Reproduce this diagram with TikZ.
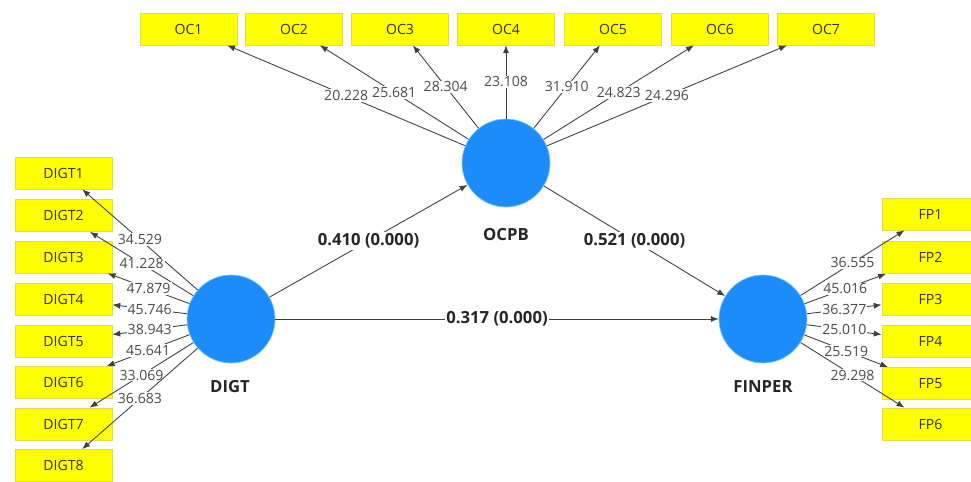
\documentclass[tikz,border=0pt]{standalone}
\usepackage{fontspec}
\setmainfont{Open Sans}
\usetikzlibrary{arrows.meta}

\definecolor{boxyellow}{RGB}{255,255,0}
\definecolor{boxedge}{RGB}{222,222,70}
\definecolor{lvblue}{RGB}{28,140,250}
\definecolor{lvedge}{RGB}{130,195,255}
\definecolor{loadgray}{RGB}{75,75,75}

\begin{document}
\begin{tikzpicture}[x=0.02cm, y=-0.02cm,
    ind/.style={draw=boxedge, fill=boxyellow, minimum width=1.94cm, minimum height=0.64cm,
                inner sep=0pt, text=black!80, font=\fontsize{8}{9}\selectfont},
    lv/.style={circle, draw=lvedge, fill=lvblue, minimum size=1.76cm, inner sep=0pt},
    lvname/.style={text=black!85, font=\fontsize{9.5}{11}\selectfont\bfseries},
    conn/.style={draw=black!75, line width=0.5pt, -{Latex[length=4.5pt,width=3.5pt]}},
    load/.style={midway, fill=white, inner sep=0.6pt, text=loadgray, font=\fontsize{8}{9}\selectfont},
    coef/.style={midway, fill=white, inner sep=1pt, text=black!85, font=\fontsize{9.5}{11}\selectfont\bfseries}]

  \useasboundingbox (0,0) rectangle (971,482);

  % latent variables
  \node[lv] (OCPB) at (506,163) {};
  \node[lv] (DIGT) at (231,319) {};
  \node[lv] (FINPER) at (763,319) {};
  \node[lvname] at (506,235) {OCPB};
  \node[lvname] at (230,387) {DIGT};
  \node[lvname] at (763,387) {FINPER};

  % indicators of OCPB
  \node[ind] (OC1) at (188.5,29) {OC1};
  \node[ind] (OC2) at (294,29) {OC2};
  \node[ind] (OC3) at (400,29) {OC3};
  \node[ind] (OC4) at (506,29) {OC4};
  \node[ind] (OC5) at (613,29) {OC5};
  \node[ind] (OC6) at (720,29) {OC6};
  \node[ind] (OC7) at (826,29) {OC7};

  % indicators of DIGT
  \node[ind] (DIGT1) at (63.5,173) {DIGT1};
  \node[ind] (DIGT2) at (63.5,215.5) {DIGT2};
  \node[ind] (DIGT3) at (63.5,257) {DIGT3};
  \node[ind] (DIGT4) at (63.5,299) {DIGT4};
  \node[ind] (DIGT5) at (63.5,341) {DIGT5};
  \node[ind] (DIGT6) at (63.5,382.5) {DIGT6};
  \node[ind] (DIGT7) at (63.5,424) {DIGT7};
  \node[ind] (DIGT8) at (63.5,465.5) {DIGT8};

  % indicators of FINPER
  \node[ind] (FP1) at (930.5,214) {FP1};
  \node[ind] (FP2) at (930.5,257.5) {FP2};
  \node[ind] (FP3) at (930.5,299) {FP3};
  \node[ind] (FP4) at (930.5,341) {FP4};
  \node[ind] (FP5) at (930.5,383.5) {FP5};
  \node[ind] (FP6) at (930.5,424) {FP6};

  % loadings
  \draw[conn] (OCPB) -- (OC1) node[load] {20.228};
  \draw[conn] (OCPB) -- (OC2) node[load] {25.681};
  \draw[conn] (OCPB) -- (OC3) node[load] {28.304};
  \draw[conn] (OCPB) -- (OC4) node[load] {23.108};
  \draw[conn] (OCPB) -- (OC5) node[load] {31.910};
  \draw[conn] (OCPB) -- (OC6) node[load] {24.823};
  \draw[conn] (OCPB) -- (OC7) node[load] {24.296};

  \draw[conn] (DIGT) -- (DIGT1) node[load] {34.529};
  \draw[conn] (DIGT) -- (DIGT2) node[load] {41.228};
  \draw[conn] (DIGT) -- (DIGT3) node[load] {47.879};
  \draw[conn] (DIGT) -- (DIGT4) node[load] {45.746};
  \draw[conn] (DIGT) -- (DIGT5) node[load] {38.943};
  \draw[conn] (DIGT) -- (DIGT6) node[load] {45.641};
  \draw[conn] (DIGT) -- (DIGT7) node[load] {33.069};
  \draw[conn] (DIGT) -- (DIGT8) node[load] {36.683};

  \draw[conn] (FINPER) -- (FP1) node[load] {36.555};
  \draw[conn] (FINPER) -- (FP2) node[load] {45.016};
  \draw[conn] (FINPER) -- (FP3) node[load] {36.377};
  \draw[conn] (FINPER) -- (FP4) node[load] {25.010};
  \draw[conn] (FINPER) -- (FP5) node[load] {25.519};
  \draw[conn] (FINPER) -- (FP6) node[load] {29.298};

  % structural paths
  \draw[conn] (DIGT) -- (OCPB) node[coef] {0.410 (0.000)};
  \draw[conn] (OCPB) -- (FINPER) node[coef] {0.521 (0.000)};
  \draw[conn] (DIGT) -- (FINPER) node[coef] {0.317 (0.000)};

\end{tikzpicture}
\end{document}
